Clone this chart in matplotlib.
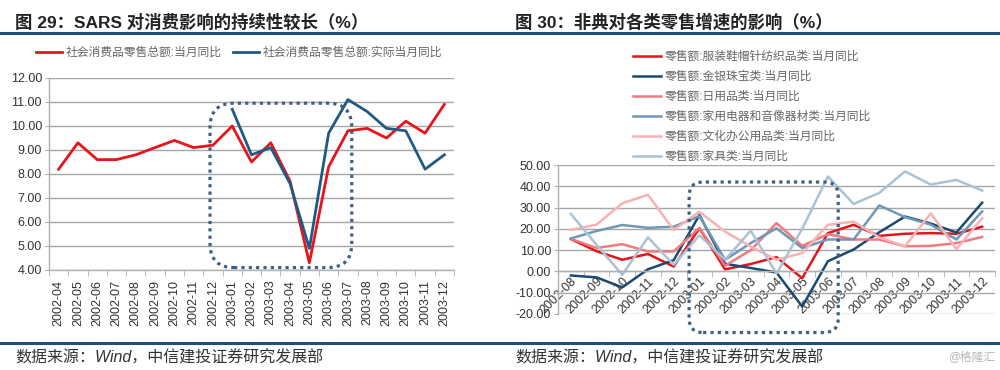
import numpy as np
import matplotlib
matplotlib.use('Agg')
import matplotlib.pyplot as plt
from matplotlib.patches import FancyBboxPatch
from matplotlib.lines import Line2D
from matplotlib.transforms import IdentityTransform

plt.rcParams['font.family'] = ['Liberation Sans', 'Noto Sans CJK SC', 'DejaVu Sans']

# ---- 图29 数据
months_29 = ['2002-04', '2002-05', '2002-06', '2002-07', '2002-08', '2002-09', '2002-10',
             '2002-11', '2002-12', '2003-01', '2003-02', '2003-03', '2003-04', '2003-05',
             '2003-06', '2003-07', '2003-08', '2003-09', '2003-10', '2003-11', '2003-12']
retail_yoy = [8.2, 9.3, 8.6, 8.6, 8.8, 9.1, 9.4, 9.1, 9.2, 10.0, 8.5, 9.3, 7.7, 4.3,
              8.3, 9.8, 9.9, 9.5, 10.2, 9.7, 10.9]
retail_real_yoy = [np.nan] * 9 + [10.7, 8.8, 9.1, 7.6, 4.9, 9.7, 11.1, 10.6, 9.9, 9.8, 8.2, 8.8]
labels_29 = ['社会消费品零售总额:当月同比', '社会消费品零售总额:实际当月同比']

# ---- 图30 数据
months_30 = ['2002-08', '2002-09', '2002-10', '2002-11', '2002-12', '2003-01', '2003-02',
             '2003-03', '2003-04', '2003-05', '2003-06', '2003-07', '2003-08', '2003-09',
             '2003-10', '2003-11', '2003-12']
clothing = [15.2, 9.5, 5.5, 8.2, 2.3, 20.3, 1.0, 3.5, 6.7, -3.2, 18.0, 21.9, 16.7, 17.7, 18.0, 17.7, 21.0]
jewelry = [-1.9, -2.8, -7.5, 1.0, 5.3, 26.5, 3.6, 1.6, -0.5, -16.5, 4.8, 10.3, 18.4, 25.8, 22.5, 18.3, 32.3]
daily = [15.3, 11.0, 12.8, 9.4, 9.4, 20.5, 2.7, 10.0, 22.7, 12.0, 17.5, 15.0, 15.0, 11.8, 12.0, 13.3, 16.2]
appliance = [15.5, 19.0, 21.8, 20.5, 21.0, 26.0, 5.5, 13.3, 20.3, 11.0, 15.0, 15.0, 31.0, 25.5, 22.0, 15.0, 28.2]
office = [19.5, 22.0, 32.0, 36.0, 19.5, 28.0, 18.7, 11.7, 5.5, 8.6, 21.9, 23.4, 16.0, 11.8, 27.3, 10.5, 25.0]
furniture = [27.0, 12.5, -1.6, 16.0, 3.1, 17.0, 5.5, 19.2, -1.0, 20.0, 44.6, 31.7, 36.9, 47.0, 40.8, 43.0, 38.0]
labels_30 = ['零售额:服装鞋帽针纺织品类:当月同比', '零售额:金银珠宝类:当月同比', '零售额:日用品类:当月同比',
             '零售额:家用电器和音像器材类:当月同比', '零售额:文化办公用品类:当月同比', '零售额:家具类:当月同比']
colors_30 = ['#e3141c', '#1b4a70', '#f07a80', '#6e98b6', '#f8b2b4', '#a9c3d5']

W, H = 1000, 370
fig = plt.figure(figsize=(W / 100, H / 100), dpi=100)

def fx(px):
    return px / W

def fy(py):
    return 1 - py / H

grid_c = '#a6a6a6'
tick_c = '#333333'
box_c = '#3d5f86'

def style_axes(ax):
    for s in ['top', 'right']:
        ax.spines[s].set_visible(False)
    for s in ['left', 'bottom']:
        ax.spines[s].set_color('#b0b0b0')
        ax.spines[s].set_linewidth(1.0)
    ax.grid(axis='y', color=grid_c, linewidth=1.0)
    ax.set_axisbelow(True)
    ax.tick_params(axis='y', length=3, color='#b0b0b0', labelsize=9, labelcolor=tick_c, pad=2)
    ax.tick_params(axis='x', which='major', length=0, labelsize=9, labelcolor=tick_c)
    ax.tick_params(axis='x', which='minor', length=4, color='#b0b0b0')

def dotted_box(ax, x0, x1, y0, y1, radius):
    p0 = ax.transData.transform((x0, y0))
    p1 = ax.transData.transform((x1, y1))
    box = FancyBboxPatch((p0[0], p0[1]), p1[0] - p0[0], p1[1] - p0[1],
                         boxstyle='round,pad=0,rounding_size=%d' % radius,
                         transform=IdentityTransform(), fill=False, ec=box_c,
                         lw=2.3, ls=(0, (1, 1.3)), zorder=5)
    fig.add_artist(box)

# ---- 左图
ax1 = fig.add_axes([fx(49), fy(270), fx(454 - 49), (270 - 78) / H])
x29 = np.arange(len(months_29))
ax1.plot(x29, retail_yoy, color='#e8141b', lw=2.0, label=labels_29[0])
ax1.plot(x29, retail_real_yoy, color='#1f5a85', lw=2.0, label=labels_29[1])
ax1.set_xlim(-0.5, len(months_29) - 0.5)
ax1.set_ylim(4, 12)
ax1.set_yticks(np.arange(4, 12.01, 1))
ax1.set_yticklabels(['%.2f' % v for v in np.arange(4, 12.01, 1)])
ax1.set_xticks(x29)
ax1.set_xticklabels(months_29, rotation=90)
ax1.set_xticks(np.arange(-0.5, len(months_29)), minor=True)
style_axes(ax1)
ax1.tick_params(axis='x', which='major', pad=7)
dotted_box(ax1, 7.85, 15.2, 4.1, 10.95, 24)

fig.legend(*ax1.get_legend_handles_labels(), loc='center', ncol=2,
           bbox_to_anchor=(fx(239), fy(53)), frameon=False, fontsize=8.5,
           handlelength=2.2, handletextpad=0.3, columnspacing=1.0,
           labelcolor='#666666', borderpad=0)

# ---- 右图
ax2 = fig.add_axes([fx(558), fy(314), fx(995 - 558), (314 - 165) / H])
ax2.spines['bottom'].set_position(('data', 0))
x30 = np.arange(len(months_30))
for vals, c, lab in zip([clothing, jewelry, daily, appliance, office, furniture], colors_30, labels_30):
    ax2.plot(x30, vals, color=c, lw=1.8, label=lab)
ax2.set_xlim(-0.5, len(months_30) - 0.5)
ax2.set_ylim(-20, 50)
ax2.set_yticks(np.arange(-20, 50.01, 10))
ax2.set_yticklabels(['%.2f' % v for v in np.arange(-20, 50.01, 10)])
ax2.set_xticks(x30)
ax2.set_xticks(np.arange(-0.5, len(months_30)), minor=True)
style_axes(ax2)
ax2.set_xticklabels(months_30, rotation=45, ha='right', va='top', rotation_mode='anchor')
ax2.tick_params(axis='x', which='major', pad=3)
dotted_box(ax2, 4.6, 10.4, -28.7, 42, 14)

fig.legend(*ax2.get_legend_handles_labels(), loc='upper left',
           bbox_to_anchor=(fx(627), fy(45)), frameon=False, fontsize=8.5,
           handlelength=2.4, handletextpad=0.3, labelspacing=0.68,
           labelcolor='#666666', borderpad=0)

# ---- 标题、分隔线、来源
title_c = '#222222'
fig.text(fx(15), fy(22), '图 29：SARS 对消费影响的持续性较长（%）', fontsize=12.5,
         fontweight='bold', color=title_c, va='center', ha='left')
fig.text(fx(515), fy(22), '图 30：非典对各类零售增速的影响（%）', fontsize=12.5,
         fontweight='bold', color=title_c, va='center', ha='left')
for yy in [33, 343]:
    fig.add_artist(Line2D([0, 1], [fy(yy), fy(yy)], color='#1f4e79', lw=2.2))
fig.text(fx(15), fy(358), '数据来源：Wind，中信建投证券研究发展部', fontsize=11.5,
         color='#333333', va='center', ha='left', style='italic')
fig.text(fx(515), fy(358), '数据来源：Wind，中信建投证券研究发展部', fontsize=11.5,
         color='#333333', va='center', ha='left', style='italic')
fig.text(fx(995), fy(357), '@格隆汇', fontsize=8.5, color='#b5b5b5', va='center', ha='right')

fig.savefig('out.png', dpi=100)
